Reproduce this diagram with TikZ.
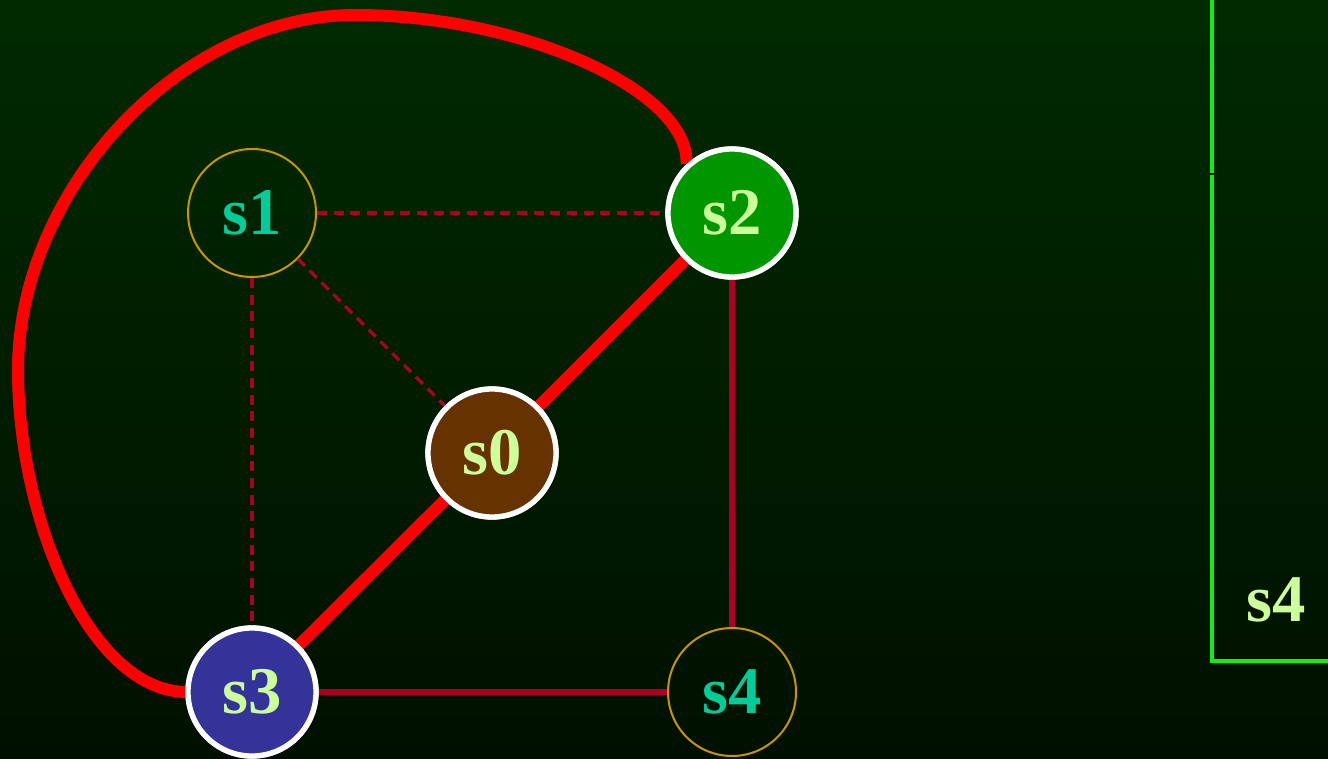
\documentclass[tikz,border=0pt]{standalone}
\usepackage{fontspec}
\setmainfont{Liberation Serif}
\begin{document}
\begin{tikzpicture}[x=0.75pt,y=-0.75pt,
  plainnode/.style={circle,minimum size=96pt,inner sep=0pt,draw={rgb,255:red,200;green,150;blue,0},line width=1.5pt,text={rgb,255:red,0;green,204;blue,153},font=\fontsize{50}{54}\selectfont\bfseries},
  fillnode/.style={circle,minimum size=96pt,inner sep=0pt,draw=white,line width=4pt,text={rgb,255:red,204;green,255;blue,153},font=\fontsize{50}{54}\selectfont\bfseries},
  dashedge/.style={draw={rgb,255:red,170;green,0;blue,34},line width=2.6pt,dash pattern=on 7.5pt off 5pt},
  solidedge/.style={draw={rgb,255:red,170;green,0;blue,34},line width=4.2pt},
  pathedge/.style={draw={rgb,255:red,255;green,0;blue,0},line width=9pt},
  greenline/.style={draw={rgb,255:red,17;green,238;blue,17},line width=2.6pt}
]
\useasboundingbox (0,0) rectangle (1328,759);
\shade[top color={rgb,255:red,0;green,42;blue,0},bottom color={rgb,255:red,0;green,16;blue,0}] (0,0) rectangle (1328,759);

\node[plainnode] (s1) at (252,213) {s1};
\node[fillnode,fill={rgb,255:red,0;green,150;blue,0}] (s2) at (732,213) {s2};
\node[fillnode,fill={rgb,255:red,102;green,51;blue,0}] (s0) at (492,453) {s0};
\node[fillnode,fill={rgb,255:red,51;green,51;blue,153}] (s3) at (252,692) {s3};
\node[plainnode] (s4) at (732,692) {s4};

\draw[dashedge] (s1) -- (s2);
\draw[dashedge] (s1) -- (s0);
\draw[dashedge] (s1) -- (s3);
\draw[solidedge] (s2) -- (s4);
\draw[solidedge] (s3) -- (s4);
\draw[pathedge] (s2) -- (s0);
\draw[pathedge] (s0) -- (s3);
\draw[pathedge] (s3.west) .. controls (90,690) and (18,520) .. (18,370)
   .. controls (18,190) and (180,15) .. (355,15)
   .. controls (520,15) and (690,90) .. (s2.133);

% redraw borders on top of the red path ends
\node[fillnode,fill={rgb,255:red,0;green,150;blue,0}] at (s2) {s2};
\node[fillnode,fill={rgb,255:red,102;green,51;blue,0}] at (s0) {s0};
\node[fillnode,fill={rgb,255:red,51;green,51;blue,153}] at (s3) {s3};

\coordinate (g1) at (1212,0);
\coordinate (g2) at (1212,173);
\coordinate (g3) at (1212,175);
\coordinate (g4) at (1212,661);
\coordinate (g5) at (1328,661);
\draw[greenline] (g1) -- (g2);
\draw[greenline] (g3) -- (g4) -- (g5);
\node[text={rgb,255:red,204;green,255;blue,153},font=\fontsize{50}{54}\selectfont\bfseries] (lbl) at (1276,600) {s4};
\end{tikzpicture}
\end{document}
